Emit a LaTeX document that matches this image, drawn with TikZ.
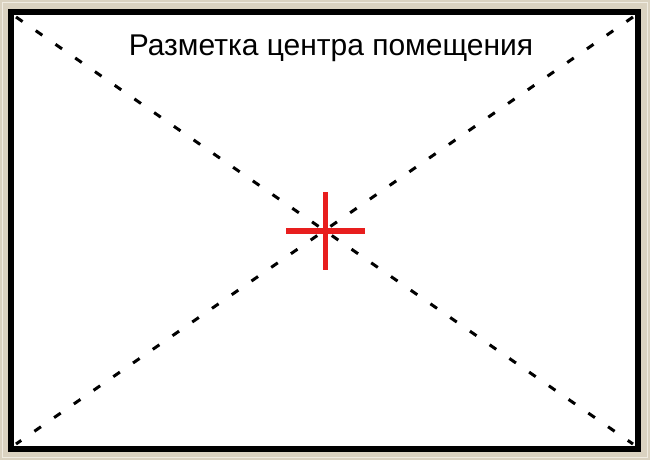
\documentclass[tikz,border=0pt]{standalone}
\usepackage{fontspec}
\setmainfont{Liberation Sans}
\definecolor{frame}{RGB}{218,210,192}
\definecolor{framelight}{RGB}{240,236,226}
\definecolor{crossred}{RGB}{232,30,30}
\tikzset{
  diag/.style={line width=3pt, dash pattern=on 8pt off 16pt, black},
  crossbar/.style={line width=5.5pt, crossred},
  titletext/.style={font=\fontsize{30}{34}\selectfont, inner sep=0pt, anchor=base}
}
\begin{document}
\begin{tikzpicture}[x=1pt,y=-1pt]
\useasboundingbox (0,0) rectangle (650,460);
\fill[frame] (0,0) rectangle (650,460);
\draw[framelight, line width=1.2pt] (2.5,2.5) rectangle (647.5,457.5);
\fill[white] (8,9) rectangle (641,452);
\draw[line width=6pt, black] (11,12) rectangle (638,449);
\coordinate (tl) at (16,17);
\coordinate (tr) at (633,17);
\coordinate (bl) at (16,444);
\coordinate (br) at (633,444);
\draw[diag] (tl) -- (br);
\draw[diag] (tr) -- (bl);
\coordinate (c) at (325.5,231);
\draw[crossbar] (286,231) -- (365,231);
\draw[crossbar] (325.5,192) -- (325.5,270);
\node[titletext] (title) at (331,56) {Разметка центра помещения};
\end{tikzpicture}
\end{document}
